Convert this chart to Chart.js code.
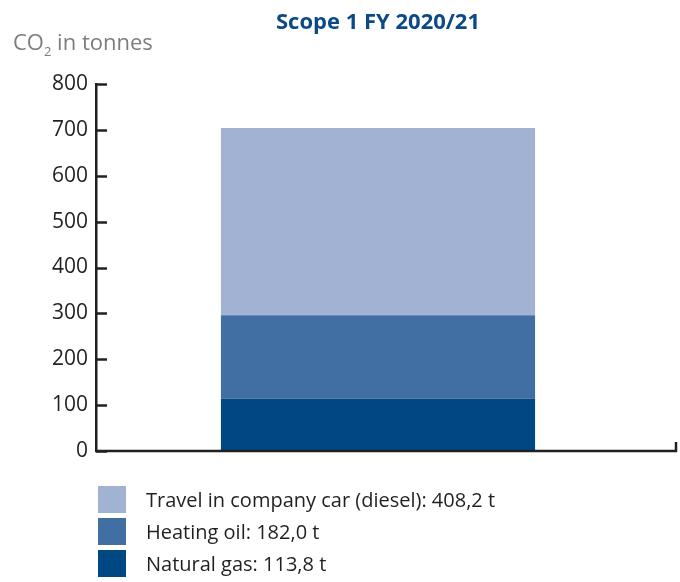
<!DOCTYPE html>
<html><head><meta charset="utf-8">
<script src="https://cdn.jsdelivr.net/npm/chart.js@4"></script>
<style>html,body{margin:0;padding:0;background:#fff}#wrap{width:680px;height:582px}</style>
</head><body><div id="wrap"><canvas id="c" width="680" height="582"></canvas></div>
<script>
const categories = ['FY 2020/21'];
const seriesLabels = ['Natural gas', 'Heating oil', 'Travel in company car (diesel)'];
const naturalGas = [113.8];
const heatingOil = [182.0];
const travelCar = [408.2];
const yTickValues = [0, 100, 200, 300, 400, 500, 600, 700, 800];
const seriesColors = ['#004884', '#416fa3', '#a2b2d3'];
const chartTitle = 'Scope 1 FY 2020/21';

const FONT = '"Open Sans", "Noto Sans", sans-serif';
const INK = '#231f20';

const overlay = {
  id: 'overlay',
  afterDraw(chart) {
    const ctx = chart.ctx;
    const ca = chart.chartArea;
    const y = chart.scales.y;
    ctx.save();
    // title
    ctx.fillStyle = '#0b4a86';
    ctx.font = 'bold 22px ' + FONT;
    ctx.textAlign = 'center';
    ctx.textBaseline = 'middle';
    ctx.fillText(chartTitle, 378, 23);
    // y axis label with subscript
    ctx.fillStyle = '#7d7d7d';
    ctx.textAlign = 'left';
    ctx.textBaseline = 'alphabetic';
    ctx.font = '22px ' + FONT;
    let x = 13;
    ctx.fillText('CO', x, 50);
    x += ctx.measureText('CO').width;
    ctx.font = '13px ' + FONT;
    ctx.fillText('2', x, 56);
    x += ctx.measureText('2').width;
    ctx.font = '22px ' + FONT;
    ctx.fillText(' in tonnes', x, 50);
    // inward ticks on y axis
    ctx.strokeStyle = INK;
    ctx.lineWidth = 2.5;
    yTickValues.forEach(v => {
      const py = Math.round(y.getPixelForValue(v)) + 0.5;
      ctx.beginPath();
      ctx.moveTo(ca.left, py);
      ctx.lineTo(ca.left + 11, py);
      ctx.stroke();
    });
    // x axis line with end tick
    const by = y.getPixelForValue(0);
    ctx.beginPath();
    ctx.moveTo(ca.left - 1, by);
    ctx.lineTo(676, by);
    ctx.lineTo(676, by - 9);
    ctx.stroke();
    // legend (reversed: top series first)
    const order = [2, 1, 0];
    ctx.font = '20px ' + FONT;
    ctx.textBaseline = 'middle';
    order.forEach((di, i) => {
      const ds = chart.data.datasets[di];
      const top = 486 + i * 32;
      ctx.fillStyle = ds.backgroundColor;
      ctx.fillRect(98, top, 28, 27);
      ctx.fillStyle = INK;
      const val = ds.data[0].toFixed(1).replace('.', ',');
      ctx.fillText(ds.label + ': ' + val + ' t', 146, top + 15);
    });
    ctx.restore();
  }
};

new Chart(document.getElementById('c'), {
  type: 'bar',
  data: {
    labels: categories,
    datasets: [
      { label: seriesLabels[0], data: naturalGas, backgroundColor: seriesColors[0] },
      { label: seriesLabels[1], data: heatingOil, backgroundColor: seriesColors[1] },
      { label: seriesLabels[2], data: travelCar, backgroundColor: seriesColors[2] }
    ]
  },
  options: {
    responsive: false,
    animation: false,
    devicePixelRatio: 1,
    layout: { padding: { top: 84, bottom: 131, right: 20, left: 0 } },
    datasets: { bar: { barPercentage: 0.557, categoryPercentage: 1, borderWidth: 0 } },
    plugins: { legend: { display: false }, title: { display: false }, tooltip: { enabled: false } },
    scales: {
      x: { stacked: true, display: false },
      y: {
        stacked: true,
        min: 0, max: 800,
        afterFit(s) { s.width = 96; },
        afterBuildTicks(s) { s.ticks = yTickValues.map(v => ({ value: v })); },
        grid: { display: false, drawTicks: false },
        border: { display: true, color: INK, width: 2.5 },
        ticks: { color: INK, padding: 8, font: { family: FONT, size: 21 } }
      }
    }
  },
  plugins: [overlay]
});
</script></body></html>
